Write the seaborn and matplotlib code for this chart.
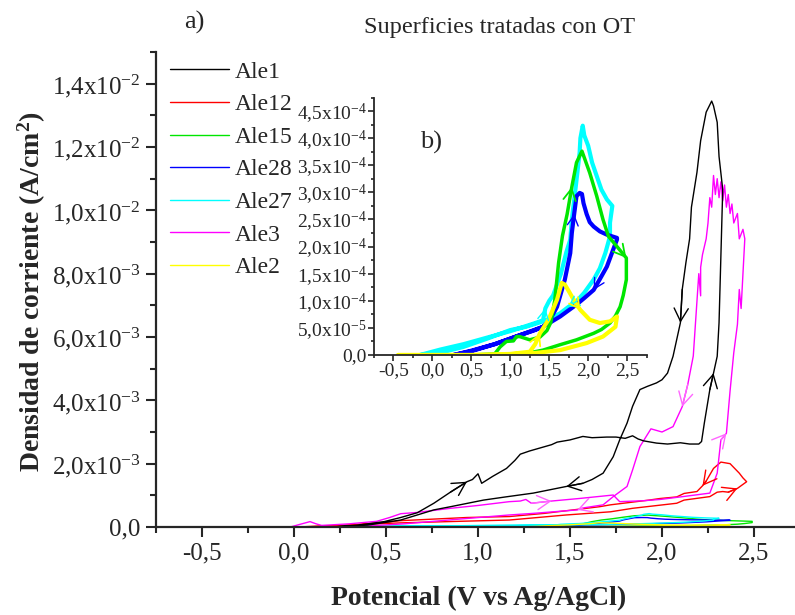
import numpy as np
import pandas as pd
import matplotlib
matplotlib.use("Agg")
import matplotlib.pyplot as plt
from matplotlib.ticker import FixedLocator, FixedFormatter, MultipleLocator
from matplotlib.lines import Line2D
import seaborn as sns

# ---------------- data (V vs Ag/AgCl, current density) ----------------
series_names = ["Ale1", "Ale12", "Ale15", "Ale28", "Ale27", "Ale3", "Ale2"]
series_colors = ["#000000", "#ff0000", "#00e600", "#0000ff", "#00ffff", "#ff00ff", "#ffff00"]

# Ale1 (mA/cm2 values, scaled to A/cm2 below)
ale1_v = [0.0, 0.21, 0.35, 0.49, 0.58, 0.67, 0.76, 0.85, 0.94, 0.97, 1.0, 1.02, 1.08, 1.155, 1.2,
          1.23, 1.28, 1.34, 1.40, 1.43, 1.5, 1.57, 1.62, 1.7, 1.75, 1.8, 1.84, 1.87, 1.90, 1.97,
          2.03, 2.1, 2.15, 2.2, 2.215, 2.23, 2.26, 2.28, 2.30, 2.31, 2.32, 2.33, 2.31, 2.30, 2.28,
          2.27, 2.24, 2.21, 2.19, 2.16, 2.15, 2.13, 2.11, 2.10, 2.06, 2.03, 2.0, 1.97, 1.92, 1.88,
          1.84, 1.81, 1.77, 1.735, 1.68, 1.62, 1.57, 1.48, 1.3, 1.15, 1.03, 0.85, 0.76, 0.67, 0.58,
          0.4, 0.2]
ale1_j = [0.0, 0.0, 0.06, 0.17, 0.3, 0.45, 0.75, 1.1, 1.43, 1.5, 1.68, 1.38, 1.6, 1.85, 2.1,
          2.3, 2.4, 2.5, 2.6, 2.68, 2.75, 2.86, 2.82, 2.84, 2.84, 2.8, 2.88, 2.78, 2.72, 2.65,
          2.62, 2.66, 2.62, 2.62, 2.7, 3.28, 4.34, 4.86, 5.39, 6.45, 8.55, 10.66, 11.7, 12.78, 13.3,
          13.45, 13.1, 12.2, 11.2, 10.1, 9.1, 8.35, 7.5, 6.45, 5.39, 4.86, 4.65, 4.55, 4.44, 4.34,
          3.81, 3.28, 2.75, 2.22, 1.70, 1.5, 1.38, 1.28, 1.07, 0.95, 0.85, 0.64, 0.54, 0.38, 0.22,
          0.06, 0.0]

# Ale12 (mA/cm2)
ale12_v = [0.0, 0.2, 0.35, 0.58, 0.9, 1.17, 1.48, 1.72, 1.84, 2.08, 2.12, 2.26, 2.30, 2.33, 2.36,
           2.41, 2.46, 2.44, 2.42, 2.37, 2.32, 2.28, 2.24, 2.22, 2.19, 2.12, 2.08, 1.99, 1.93, 1.72,
           1.66, 1.36, 1.17, 0.94, 0.58, 0.3, 0.0]
ale12_j = [0.0, 0.03, 0.08, 0.13, 0.18, 0.22, 0.38, 0.48, 0.59, 0.75, 0.85, 0.96, 1.1, 1.12, 1.1,
           1.22, 1.43, 1.55, 1.7, 2.0, 2.05, 1.85, 1.45, 1.3, 1.12, 1.06, 0.95, 0.9, 0.85, 0.7,
           0.64, 0.43, 0.33, 0.3, 0.2, 0.05, 0.0]

# Ale3 (mA/cm2)
ale3_v = [-0.02, 0.03, 0.087, 0.12, 0.15, 0.3, 0.45, 0.52, 0.58, 0.67, 0.85, 1.0, 1.17, 1.23, 1.26,
          1.29, 1.4, 1.55, 1.735, 1.77, 1.9, 1.99, 2.1, 2.26, 2.30, 2.32, 2.35, 2.37, 2.39, 2.41,
          2.42, 2.43, 2.44, 2.45, 2.44, 2.42, 2.41, 2.39, 2.38, 2.37, 2.36, 2.35, 2.34, 2.33, 2.32,
          2.31, 2.30, 2.29, 2.28, 2.27, 2.26, 2.25, 2.24, 2.22, 2.21, 2.21, 2.2, 2.17, 2.14, 2.11,
          2.06, 2.0, 1.94, 1.88, 1.84, 1.81, 1.735, 1.68, 1.57, 1.54, 1.3, 1.17, 0.9, 0.6, 0.3]
ale3_j = [0.0, 0.08, 0.17, 0.1, 0.05, 0.1, 0.18, 0.3, 0.42, 0.46, 0.59, 0.68, 0.8, 0.82, 0.87,
          0.75, 0.82, 0.9, 1.01, 0.8, 0.83, 0.87, 0.95, 1.07, 1.7, 2.75, 2.96, 4.3, 5.5, 6.4,
          7.5, 6.9, 8.0, 9.1, 9.4, 9.1, 9.9, 9.6, 10.2, 9.9, 10.5, 10.1, 10.8, 10.3, 10.9,
          10.4, 11.0, 10.5, 11.1, 10.1, 10.4, 9.6, 9.1, 8.6, 8.2, 7.3, 8.0, 5.4, 4.5, 3.8,
          3.17, 3.0, 3.1, 2.54, 1.8, 1.28, 0.96, 0.7, 0.6, 0.54, 0.43, 0.38, 0.25, 0.1, 0.0]

# Ale15 (x1e-4 A/cm2)
ale15_v = [-0.3, 0.5, 0.8, 0.87, 0.95, 1.04, 1.08, 1.12, 1.25, 1.38, 1.47, 1.52, 1.57, 1.62, 1.67,
           1.73, 1.79, 1.85, 1.92, 1.96, 2.02, 2.11, 2.19, 2.26, 2.37, 2.49, 2.49, 2.45, 2.41, 2.35,
           2.28, 2.17, 2.07, 1.85, 1.64, 1.42, 1.21, 1.0, 0.5, -0.3]
ale15_j = [0.0, 0.0, 0.02, 0.15, 0.25, 0.26, 0.34, 0.34, 0.28, 0.33, 0.45, 0.6, 1.0, 1.7, 2.2,
           2.6, 3.1, 3.55, 3.76, 3.6, 3.36, 2.93, 2.5, 2.19, 2.0, 1.79, 1.39, 1.1, 0.89, 0.72,
           0.59, 0.47, 0.4, 0.28, 0.19, 0.09, 0.03, 0.01, 0.0, 0.0]

# Ale28 (x1e-4 A/cm2)
ale28_v = [0.27, 0.5, 0.8, 1.13, 1.3, 1.42, 1.51, 1.60, 1.70, 1.77, 1.79, 1.82, 1.85, 1.89, 1.92,
           1.94, 1.98, 2.02, 2.07, 2.15, 2.24, 2.37, 2.37, 2.32, 2.24, 2.15, 2.07, 1.95, 1.85, 1.64,
           1.42, 1.13, 0.8, 0.5, 0.27]
ale28_j = [0.0, 0.08, 0.2, 0.37, 0.45, 0.52, 0.65, 0.89, 1.39, 1.88, 2.25, 2.6, 2.93, 2.99, 2.97,
           2.8, 2.6, 2.45, 2.37, 2.28, 2.22, 2.16, 2.13, 1.94, 1.63, 1.4, 1.2, 1.05, 0.93, 0.71,
           0.52, 0.37, 0.2, 0.07, 0.0]

# Ale27 (x1e-4 A/cm2)
ale27_v = [-0.16, 0.1, 0.4, 0.7, 1.0, 1.13, 1.3, 1.42, 1.45, 1.5, 1.55, 1.65, 1.72, 1.77, 1.79,
           1.84, 1.89, 1.90, 1.93, 1.95, 2.0, 2.05, 2.11, 2.17, 2.24, 2.31, 2.28, 2.28, 2.22, 2.15,
           2.07, 1.95, 1.85, 1.74, 1.64, 1.52, 1.42, 1.2, 1.0, 0.7, 0.4, 0.1, -0.16]
ale27_j = [0.0, 0.1, 0.2, 0.32, 0.44, 0.5, 0.58, 0.64, 0.86, 1.0, 1.1, 1.5, 1.9, 2.13, 2.5,
           3.1, 3.73, 4.0, 4.23, 4.05, 3.86, 3.55, 3.3, 3.05, 2.87, 2.75, 2.44, 2.19, 1.88, 1.6,
           1.39, 1.15, 0.99, 0.88, 0.77, 0.68, 0.62, 0.52, 0.46, 0.3, 0.15, 0.04, 0.0]

# Ale2 (x1e-4 A/cm2)
ale2_v = [-0.44, 0.5, 1.0, 1.25, 1.32, 1.38, 1.49, 1.55, 1.60, 1.66, 1.70, 1.75, 1.79, 1.85, 1.90,
          2.02, 2.15, 2.28, 2.37, 2.35, 2.19, 1.98, 1.64, 1.34, 0.8, -0.44]
ale2_j = [0.0, 0.0, 0.02, 0.06, 0.2, 0.4, 0.65, 0.85, 1.02, 1.33, 1.3, 1.18, 1.08, 0.93, 0.83,
          0.65, 0.59, 0.62, 0.71, 0.52, 0.34, 0.22, 0.09, 0.04, 0.0, 0.0]

# tick values / labels
main_xticks = [-0.5, 0.0, 0.5, 1.0, 1.5, 2.0, 2.5]
main_xticklabels = ["-0,5", "0,0", "0,5", "1,0", "1,5", "2,0", "2,5"]
main_yticks = [0.0, 2e-3, 4e-3, 6e-3, 8e-3, 1.0e-2, 1.2e-2, 1.4e-2]
main_yticklabels = ["0,0", "2,0x10$^{-3}$", "4,0x10$^{-3}$", "6,0x10$^{-3}$", "8,0x10$^{-3}$",
                    "1,0x10$^{-2}$", "1,2x10$^{-2}$", "1,4x10$^{-2}$"]
inset_yticks = [0.0, 0.5e-4, 1.0e-4, 1.5e-4, 2.0e-4, 2.5e-4, 3.0e-4, 3.5e-4, 4.0e-4, 4.5e-4]
inset_yticklabels = ["0,0", "5,0x10$^{-5}$", "1,0x10$^{-4}$", "1,5x10$^{-4}$", "2,0x10$^{-4}$",
                     "2,5x10$^{-4}$", "3,0x10$^{-4}$", "3,5x10$^{-4}$", "4,0x10$^{-4}$",
                     "4,5x10$^{-4}$"]

# ---------------- assemble ----------------
curves = {
    "Ale1": (ale1_v, np.array(ale1_j) * 1e-3),
    "Ale12": (ale12_v, np.array(ale12_j) * 1e-3),
    "Ale15": (ale15_v, np.array(ale15_j) * 1e-4),
    "Ale28": (ale28_v, np.array(ale28_j) * 1e-4),
    "Ale27": (ale27_v, np.array(ale27_j) * 1e-4),
    "Ale3": (ale3_v, np.array(ale3_j) * 1e-3),
    "Ale2": (ale2_v, np.array(ale2_j) * 1e-4),
}
color_of = dict(zip(series_names, series_colors))
frames = []
for name in series_names:
    v, j = curves[name]
    frames.append(pd.DataFrame({"V": v, "j": j, "serie": name, "order": np.arange(len(v))}))
df = pd.concat(frames, ignore_index=True)

# ---------------- style ----------------
sns.set_style("ticks")
plt.rcParams["font.family"] = ["Liberation Serif", "DejaVu Serif"]
plt.rcParams["mathtext.fontset"] = "custom"
plt.rcParams["mathtext.rm"] = "Liberation Serif"
plt.rcParams["mathtext.it"] = "Liberation Serif"
plt.rcParams["mathtext.bf"] = "Liberation Serif:bold"
plt.rcParams["mathtext.default"] = "regular"

W, H = 795, 615
fig = plt.figure(figsize=(W / 100, H / 100), dpi=100)
fig.patch.set_facecolor("white")

# main axes: x from -0.75 to 2.75
ax = fig.add_axes([156 / W, 1 - 527 / H, 644 / W, 475 / H])
ax.set_facecolor("white")

draw_order = ["Ale15", "Ale28", "Ale27", "Ale2", "Ale12", "Ale3", "Ale1"]
for name in draw_order:
    sub = df[df.serie == name]
    sns.lineplot(data=sub, x="V", y="j", sort=False, estimator=None, color=color_of[name],
                 lw=1.0, ax=ax, legend=False)


def add_arrows(axis, name, idxs, color, ms=17, lw=1.0):
    """Open V arrowheads at chosen points of a curve, oriented along the scan."""
    v, j = curves[name]
    for i in idxs:
        axis.annotate("", xy=(v[i], j[i]), xytext=(v[i - 1], j[i - 1]),
                      arrowprops=dict(arrowstyle="->,head_length=0.55,head_width=0.3",
                                      color=color, lw=lw, mutation_scale=ms,
                                      shrinkA=0, shrinkB=0))


add_arrows(ax, "Ale1", [8, 37, 53, 67], "black", ms=17)
add_arrows(ax, "Ale3", [16, 26, 59, 69], "#ff66ff", ms=17)
add_arrows(ax, "Ale12", [15, 23], "#ff0000", ms=17)

ax.set_xlim(-0.75, 2.75)
ax.set_ylim(0, 0.015)
ax.xaxis.set_major_locator(FixedLocator(main_xticks))
ax.xaxis.set_major_formatter(FixedFormatter(main_xticklabels))
ax.xaxis.set_minor_locator(MultipleLocator(0.25))
ax.yaxis.set_major_locator(FixedLocator(main_yticks))
ax.yaxis.set_major_formatter(FixedFormatter(main_yticklabels))
ax.yaxis.set_minor_locator(MultipleLocator(1e-3))
ax.tick_params(which="major", direction="out", length=7, width=1.5, labelsize=18, pad=4)
ax.tick_params(which="minor", direction="out", length=4, width=1.5)
for s in ["top", "right"]:
    ax.spines[s].set_visible(False)
for s in ["left", "bottom"]:
    ax.spines[s].set_linewidth(1.6)
ax.set_xlabel("")
ax.set_ylabel("")

fig.text(479 / W, 1 - 598 / H, "Potencial (V vs Ag/AgCl)", ha="center", va="center",
         fontsize=20, fontweight="bold")
fig.text(32 / W, 1 - 292 / H, "Densidad de corriente (A/cm$^{2}$)", ha="center", va="center",
         rotation=90, fontsize=20, fontweight="bold")
fig.text(500 / W, 1 - 27 / H, "Superficies tratadas con OT", ha="center", va="center",
         fontsize=17.5)
fig.text(194 / W, 1 - 22 / H, "a)", ha="center", va="center", fontsize=19)

handles = [Line2D([], [], color=color_of[n], lw=1.0) for n in series_names]
ax.legend(handles, series_names, loc="upper left", bbox_to_anchor=(170 / W, 1 - 61 / H),
          bbox_transform=fig.transFigure, frameon=False, fontsize=17, handlelength=2.5,
          handletextpad=0.25, labelspacing=0.47, borderpad=0, borderaxespad=0)

# inset axes
axi = fig.add_axes([374 / W, 1 - 355 / H, 272.6 / W, 257.5 / H])
axi.set_facecolor("none")
inset_names = ["Ale27", "Ale28", "Ale15", "Ale2"]
inset_lw = {"Ale27": 3.0, "Ale28": 3.0, "Ale15": 2.5, "Ale2": 3.0}
for name in inset_names:
    sub = df[df.serie == name]
    sns.lineplot(data=sub, x="V", y="j", sort=False, estimator=None, color=color_of[name],
                 lw=inset_lw[name], ax=axi, legend=False)
add_arrows(axi, "Ale15", [16, 25], color_of["Ale15"], ms=15, lw=1.3)
add_arrows(axi, "Ale28", [11, 26], color_of["Ale28"], ms=13, lw=1.0)
add_arrows(axi, "Ale27", [8, 33], color_of["Ale27"], ms=13, lw=1.0)
add_arrows(axi, "Ale2", [5, 14], color_of["Ale2"], ms=13, lw=1.3)
axi.set_xlim(-0.75, 2.75)
axi.set_ylim(0, 4.75e-4)
axi.xaxis.set_major_locator(FixedLocator(main_xticks))
axi.xaxis.set_major_formatter(FixedFormatter(main_xticklabels))
axi.xaxis.set_minor_locator(MultipleLocator(0.25))
axi.yaxis.set_major_locator(FixedLocator(inset_yticks))
axi.yaxis.set_major_formatter(FixedFormatter(inset_yticklabels))
axi.yaxis.set_minor_locator(MultipleLocator(0.25e-4))
axi.tick_params(which="major", direction="out", length=4, width=1.2, labelsize=14, pad=1)
axi.tick_params(which="minor", direction="out", length=2.5, width=1.2)
for s in ["top", "right"]:
    axi.spines[s].set_visible(False)
for s in ["left", "bottom"]:
    axi.spines[s].set_linewidth(1.3)
axi.set_xlabel("")
axi.set_ylabel("")
fig.text(431 / W, 1 - 142 / H, "b)", ha="center", va="center", fontsize=19)

fig.savefig("out.png", dpi=100, facecolor="white")
